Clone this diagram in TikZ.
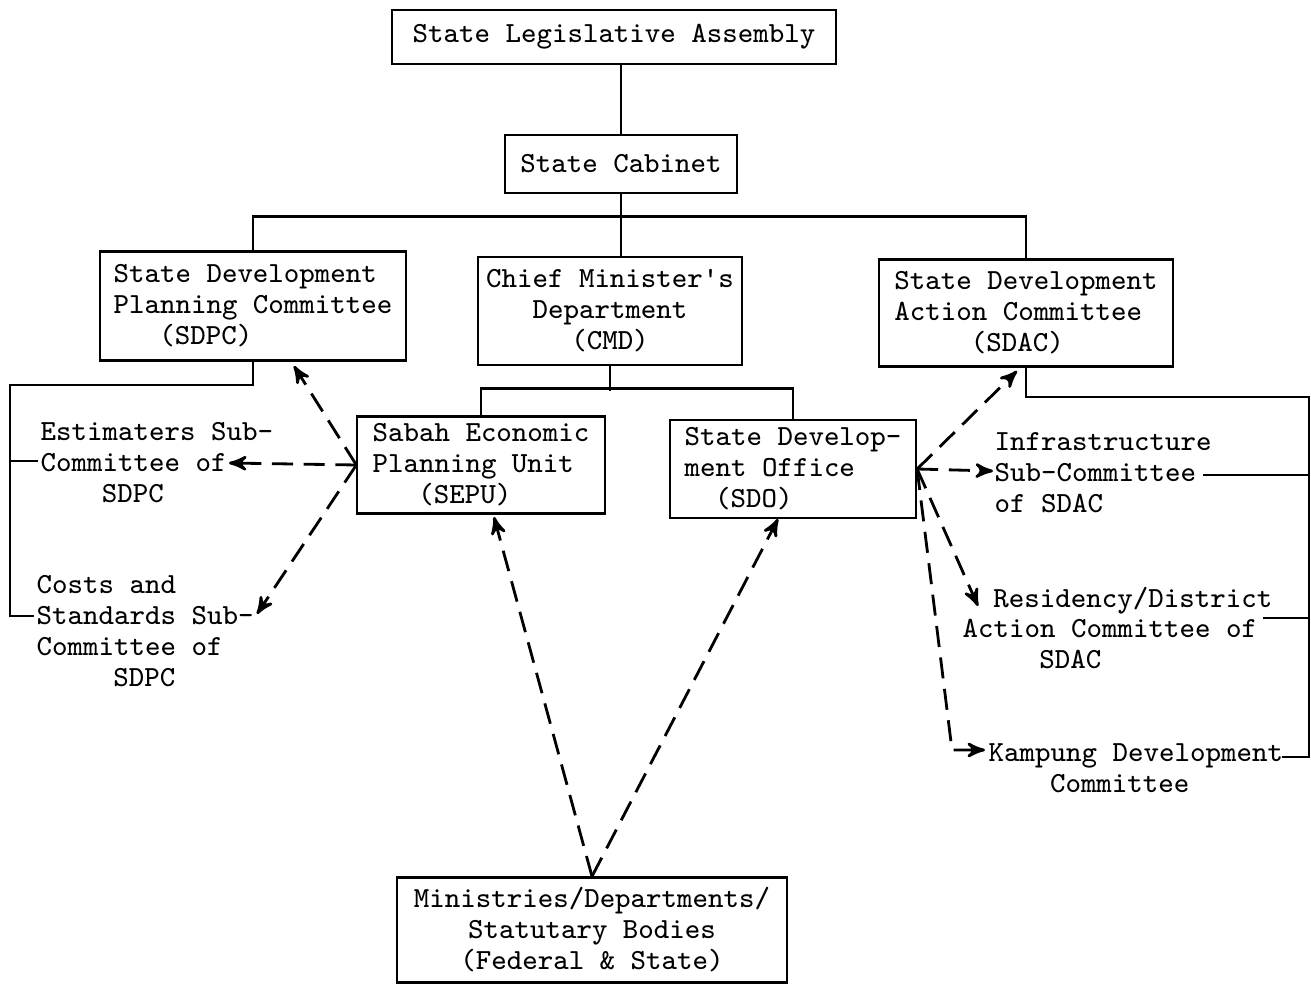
\documentclass[tikz,border=0pt]{standalone}
\usepackage{fontspec}
\usetikzlibrary{arrows}
\newcommand{\chars}[1]{\hspace*{#1\dimexpr0.525em\relax}}

\begin{document}
\begin{tikzpicture}[x=.01cm, y=-.01cm,
  font=\ttfamily\fontsize{8.3}{8.8}\selectfont,
  box/.style={draw, semithick, align=left, inner sep=0},
  lbl/.style={align=left, inner sep=0, anchor=west},
  tree/.style={black, thick},
  link/.style={black, thick, dash pattern=on 6pt off 3pt, ->, >=stealth'}]
\useasboundingbox (0,0) rectangle (1311,985);

% boxes
\node[box, align=center, minimum width=4.43cm, minimum height=.54cm] (sla) at (614,37) {State Legislative Assembly};
\node[box, minimum width=2.32cm, minimum height=.58cm] (sc) at (621,164) {State Cabinet};
\node[box, minimum width=3.05cm, minimum height=1.09cm] (sdpc) at (253,306) {State Development\\Planning Committee\\\chars{3}(SDPC)};
\node[box, align=center, minimum width=2.63cm, minimum height=1.08cm] (cmd) at (610,311) {Chief Minister's\\Department\\(CMD)};
\node[box, minimum width=2.94cm, minimum height=1.07cm] (sdac) at (1026,313) {State Development\\Action Committee\\\chars{5}(SDAC)};
\node[box, minimum width=2.47cm, minimum height=.97cm] (sepu) at (481,465) {Sabah Economic\\Planning Unit\\\chars{3}(SEPU)};
\node[box, minimum width=2.46cm, minimum height=.98cm] (sdo) at (793,469) {State Develop-\\ment Office\\\chars{2}(SDO)};
\node[box, align=center, minimum width=3.9cm, minimum height=1.05cm] (mdsb) at (592,930) {Ministries/Departments/\\Statutary Bodies\\(Federal \& State)};

% sub-committees
\node[lbl] (est) at (40,463) {Estimaters Sub-\\Committee of\\\chars{4}SDPC};
\node[lbl] (costs) at (36,631) {Costs and\\Standards Sub-\\Committee of\\\chars{5}SDPC};
\node[lbl] (infra) at (994,473) {Infrastructure\\Sub-Committee\\of SDAC};
\node[lbl] (resid) at (962,628) {\chars{2}Residency/District\\Action Committee of\\\chars{5}SDAC};
\node[lbl] (kamp) at (988,768) {Kampung Development\\\chars{4}Committee};

% solid lines
\draw[tree] (sc.north) -- (sc.north |- sla.south);
\draw[tree] (sc.south) -- (sc.south |- cmd.north);
\draw[tree] (sdpc.north) -- ++(0,-34) -| (sdac.north);
\draw[tree] (cmd.south) -- ++(0,25);
\draw[tree] (sepu.north) -- ++(0,-27) -| (sdo.north);

\coordinate (lft) at (10,385);
\coordinate (estIn) at (38,461);
\coordinate (costsIn) at (34,616);
\draw[tree] (sdpc.south) |- (lft) |- (costsIn);
\draw[tree] (lft |- estIn) -- (estIn);

\coordinate (rgt) at (1309,397);
\coordinate (infIn) at (1203,475);
\coordinate (resIn) at (1263,618);
\coordinate (kampIn) at (1282,757);
\draw[tree] (sdac.south) |- (rgt) |- (kampIn);
\draw[tree] (rgt |- infIn) -- (infIn);
\draw[tree] (rgt |- resIn) -- (resIn);

% dashed arrows
\coordinate (sdpcTip) at (294,366);
\coordinate (estTip) at (229,463);
\coordinate (costTip) at (257,614);
\coordinate (sepuTip) at (494,517);
\coordinate (sdoTip) at (778,519);
\coordinate (sdacTip) at (1017,371);
\coordinate (infTip) at (993,471);
\coordinate (resTip) at (978,606);
\coordinate (kampBend) at (952,750);
\coordinate (kampTip) at (985,750);
\foreach \t in {sdpcTip, estTip, costTip}
  \draw[link] (sepu.west) -- (\t);
\foreach \t in {sepuTip, sdoTip}
  \draw[link] (mdsb.north) -- (\t);
\foreach \t in {sdacTip, infTip, resTip}
  \draw[link] (sdo.east) -- (\t);
\draw[link] (sdo.east) -- (kampBend) -- (kampTip);
\end{tikzpicture}
\end{document}
